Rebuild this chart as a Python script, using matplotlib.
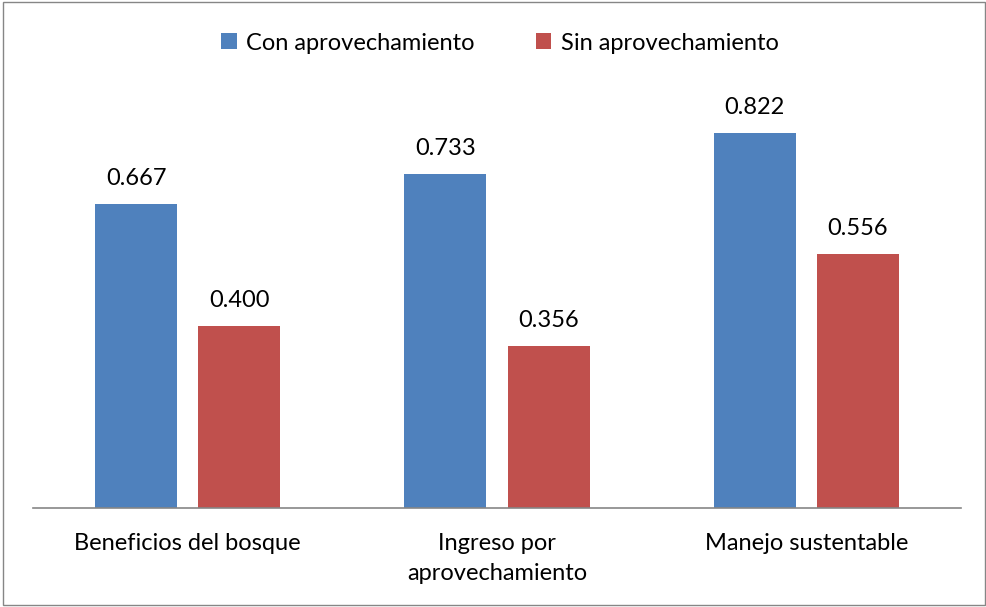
import matplotlib
matplotlib.use('Agg')
import matplotlib.pyplot as plt
import numpy as np

categories = ['Beneficios del bosque', 'Ingreso por\naprovechamiento', 'Manejo sustentable']
series_names = ['Con aprovechamiento', 'Sin aprovechamiento']
con_vals = [0.667, 0.733, 0.822]
sin_vals = [0.400, 0.356, 0.556]

BLUE = '#4F81BD'
RED = '#C0504D'

plt.rcParams['font.family'] = ['Lato', 'DejaVu Sans']
FS = 17

fig = plt.figure(figsize=(9.87, 6.07), dpi=100)
# axes area in pixels: x 33..961, y 52..508 (of 607)
ax = fig.add_axes([33/987, 1 - 508/607, 928/987, 456/607])

x = np.arange(len(categories))
w = 0.265
off = 0.1667
b1 = ax.bar(x - off, con_vals, w, color=BLUE, label=series_names[0])
b2 = ax.bar(x + off, sin_vals, w, color=RED, label=series_names[1])

for bars in (b1, b2):
    for r in bars:
        ax.text(r.get_x() + r.get_width()/2, r.get_height() + 0.033,
                '%.3f' % r.get_height(), ha='center', va='bottom', fontsize=FS)

ax.set_xlim(-0.5, 2.5)
ax.set_ylim(0, 1.0)
ax.set_xticks(x)
ax.set_xticklabels(categories, fontsize=FS, linespacing=1.5)
ax.tick_params(axis='x', length=0, pad=18)
ax.set_yticks([])
for s in ['top', 'right', 'left']:
    ax.spines[s].set_visible(False)
ax.spines['bottom'].set_color('#868686')
ax.spines['bottom'].set_linewidth(1.2)

fig.legend(loc='center', bbox_to_anchor=(500/987, 1 - 43/607), ncol=2, frameon=False,
           fontsize=FS, handlelength=0.65, handleheight=0.65, handletextpad=0.4,
           columnspacing=2.6)

# outer chart border
fig.patches.append(plt.Rectangle((0.003, 0.003), 0.995, 0.994, transform=fig.transFigure,
                                 fill=False, edgecolor='#868686', linewidth=1))

fig.savefig('out.png', dpi=100)
